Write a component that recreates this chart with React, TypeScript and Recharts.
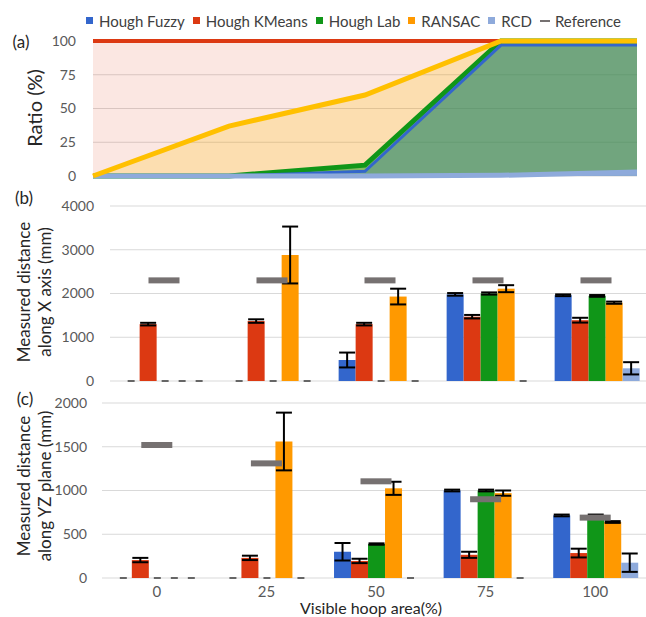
import {
  Area,
  Bar,
  CartesianGrid,
  ComposedChart,
  ErrorBar,
  Line,
  XAxis,
  YAxis,
} from "recharts";

// Visible hoop area (%) categories, shared by the three panels.
const categories = ["0", "25", "50", "75", "100"];

// (a) detection ratio (%)
const ratioFuzzy = [0, 0, 3.5, 97, 97];
const ratioKMeans = [100, 100, 100, 100, 100];
const ratioLab = [0, 0, 8, 100, 100];
const ratioRansac = [0, 37, 60, 100, 100];
const ratioRcd = [0, 0, 0, 0.5, 3];
const ratioTicks = [0, 25, 50, 75, 100];

// (b) measured distance along X axis (mm), mean and error
const xFuzzy = [0, 0, 480, 1980, 1960];
const xFuzzyErr = [0, 0, 170, 30, 20];
const xKMeans = [1300, 1370, 1300, 1470, 1390];
const xKMeansErr = [30, 40, 30, 40, 55];
const xLab = [0, 0, 0, 2000, 1945];
const xLabErr = [0, 0, 0, 25, 20];
const xRansac = [0, 2880, 1930, 2110, 1790];
const xRansacErr = [0, 650, 180, 80, 25];
const xRcd = [0, 0, 0, 0, 290];
const xRcdErr = [0, 0, 0, 0, 140];
const xReference = [2300, 2300, 2300, 2300, 2300];
const xTicks = [0, 1000, 2000, 3000, 4000];

// (c) measured distance along YZ plane (mm), mean and error
const yzFuzzy = [0, 0, 300, 1000, 715];
const yzFuzzyErr = [0, 0, 100, 10, 10];
const yzKMeans = [205, 230, 195, 265, 285];
const yzKMeansErr = [25, 25, 25, 35, 50];
const yzLab = [0, 0, 388, 1000, 715];
const yzLabErr = [0, 0, 8, 10, 10];
const yzRansac = [0, 1560, 1025, 970, 640];
const yzRansacErr = [0, 330, 75, 30, 10];
const yzRcd = [0, 0, 0, 0, 175];
const yzRcdErr = [0, 0, 0, 0, 105];
const yzReference = [1520, 1310, 1105, 900, 690];
const yzTicks = [0, 500, 1000, 1500, 2000];

const C = {
  fuzzy: "#3366cc",
  kmeans: "#dc3912",
  lab: "#109618",
  ransac: "#ff9900",
  ransacLine: "#ffc000",
  rcd: "#8eaadb",
  ref: "#767171",
} as const;

const GRID = "#d9d9d9";
const TICK = "#595959";
const INK = "#262626";
const FONT = "Lato, 'Open Sans', sans-serif";

const SERIES = [
  { key: "fuzzy", name: "Hough Fuzzy", color: C.fuzzy },
  { key: "kmeans", name: "Hough KMeans", color: C.kmeans },
  { key: "lab", name: "Hough Lab", color: C.lab },
  { key: "ransac", name: "RANSAC", color: C.ransac },
  { key: "rcd", name: "RCD", color: C.rcd },
];

const ratioData = categories.map((cat, i) => ({
  cat,
  fuzzy: ratioFuzzy[i],
  kmeans: ratioKMeans[i],
  lab: ratioLab[i],
  ransac: ratioRansac[i],
  rcd: ratioRcd[i],
}));

// note: no "ref" key in rows, Bar spreads the row into its rectangles
const xData = categories.map((cat, i) => ({
  cat,
  fuzzy: xFuzzy[i],
  fuzzyErr: xFuzzyErr[i],
  kmeans: xKMeans[i],
  kmeansErr: xKMeansErr[i],
  lab: xLab[i],
  labErr: xLabErr[i],
  ransac: xRansac[i],
  ransacErr: xRansacErr[i],
  rcd: xRcd[i],
  rcdErr: xRcdErr[i],
  reference: xReference[i],
}));

const yzData = categories.map((cat, i) => ({
  cat,
  fuzzy: yzFuzzy[i],
  fuzzyErr: yzFuzzyErr[i],
  kmeans: yzKMeans[i],
  kmeansErr: yzKMeansErr[i],
  lab: yzLab[i],
  labErr: yzLabErr[i],
  ransac: yzRansac[i],
  ransacErr: yzRansacErr[i],
  rcd: yzRcd[i],
  rcdErr: yzRcdErr[i],
  reference: yzReference[i],
}));

// grey reference dash drawn at each category centre
function RefDash(props: any) {
  const { cx, cy, index } = props;
  if (cx == null || cy == null) return <g key={index} />;
  return <rect key={index} x={cx - 15.5} y={cy - 3} width={31} height={6} fill={C.ref} />;
}

// zero-valued bars still show a short dark tick on the baseline
function BarShape(props: any) {
  const { x, y, width, height, fill } = props;
  if (x == null || y == null) return <g />;
  if (!height || Math.abs(height) < 0.5) {
    const cx = x + width / 2;
    return <line x1={cx - 3.5} x2={cx + 3.5} y1={y} y2={y} stroke="#3a3a3a" strokeWidth={1.5} />;
  }
  return <rect x={x} y={y} width={width} height={height} fill={fill} />;
}

const tickStyle = { fill: TICK, fontSize: 14, fontFamily: FONT };

function Legend() {
  return (
    <div
      style={{
        position: "absolute",
        left: 86,
        top: 10,
        height: 21,
        display: "flex",
        alignItems: "center",
        fontSize: 15,
        color: "#404040",
        whiteSpace: "nowrap",
      }}
    >
      {SERIES.map((s) => (
        <span key={s.key} style={{ display: "flex", alignItems: "center", marginRight: 8 }}>
          <span style={{ width: 7, height: 7, background: s.color, marginRight: 6 }} />
          {s.name}
        </span>
      ))}
      <span style={{ display: "flex", alignItems: "center" }}>
        <span style={{ width: 10, height: 2, background: C.ref, marginRight: 5 }} />
        Reference
      </span>
    </div>
  );
}

function Label({ x, y, size, children, rotate }: { x: number; y: number; size: number; children: any; rotate?: boolean }) {
  return (
    <div
      style={{
        position: "absolute",
        left: x,
        top: y,
        transform: `translate(-50%, -50%)${rotate ? " rotate(-90deg)" : ""}`,
        fontSize: size,
        lineHeight: rotate ? "21px" : 1,
        color: INK,
        whiteSpace: "nowrap",
        textAlign: "center",
      }}
    >
      {children}
    </div>
  );
}

function DistanceChart({ data, ticks, max, axisWidth, tickMargin, showX }: { data: any[]; ticks: number[]; max: number; axisWidth: number; tickMargin: number; showX: boolean }) {
  return (
    <ComposedChart
      width={650}
      height={showX ? 232 : 212}
      data={data}
      margin={showX ? { top: 18, right: 0, bottom: 14, left: 0 } : { top: 20, right: 0, bottom: 17, left: 0 }}
      barCategoryGap="11.7%"
      barGap={0}
    >
      <CartesianGrid stroke={GRID} vertical={false} />
      <XAxis
        dataKey="cat"
        hide={!showX}
        height={25}
        axisLine={false}
        tickLine={false}
        tickMargin={2}
        tick={{ ...tickStyle, fontSize: 15 }}
      />
      <YAxis
        domain={[0, max]}
        ticks={ticks}
        interval={0}
        width={axisWidth}
        axisLine={false}
        tickLine={false}
        tickMargin={tickMargin}
        tick={tickStyle}
      />
      {SERIES.map((s) => (
        <Bar key={s.key} dataKey={s.key} fill={s.color} shape={BarShape} isAnimationActive={false}>
          <ErrorBar dataKey={`${s.key}Err`} width={8} strokeWidth={2} stroke="#000" />
        </Bar>
      ))}
      <Line dataKey="reference" stroke="none" dot={RefDash} activeDot={false} isAnimationActive={false} />
    </ComposedChart>
  );
}

export default function App() {
  return (
    <div
      style={{
        position: "absolute",
        left: 0,
        top: 0,
        width: 646,
        height: 617,
        overflow: "hidden",
        background: "#fff",
        fontFamily: FONT,
      }}
    >
      <Legend />

      <div style={{ position: "absolute", left: 0, top: 0 }}>
        <ComposedChart width={646} height={190} data={ratioData} margin={{ top: 41, right: 9, bottom: 14, left: 0 }}>
          <CartesianGrid stroke={GRID} vertical={false} />
          <XAxis dataKey="cat" hide scale="point" padding={{ left: 0, right: 0 }} />
          <YAxis
            domain={[0, 100]}
            ticks={ratioTicks}
            interval={0}
            width={93}
            axisLine={false}
            tickLine={false}
            tickMargin={11}
            tick={tickStyle}
          />
          {/* translucent fills first, outlines on top */}
          <Area dataKey="kmeans" type="linear" stroke="none" fill={C.kmeans} fillOpacity={0.12} isAnimationActive={false} />
          <Area dataKey="ransac" type="linear" stroke="none" fill={C.ransacLine} fillOpacity={0.22} isAnimationActive={false} />
          <Area dataKey="lab" type="linear" stroke="none" fill={C.lab} fillOpacity={0.5} isAnimationActive={false} />
          <Area dataKey="fuzzy" type="linear" stroke="none" fill={C.fuzzy} fillOpacity={0.25} isAnimationActive={false} />
          <Area dataKey="rcd" type="linear" stroke="none" fill={C.rcd} fillOpacity={0.9} isAnimationActive={false} />
          <Line dataKey="kmeans" type="linear" stroke={C.kmeans} strokeWidth={4} dot={false} activeDot={false} isAnimationActive={false} />
          <Line dataKey="lab" type="linear" stroke={C.lab} strokeWidth={5} dot={false} activeDot={false} isAnimationActive={false} />
          <Line dataKey="fuzzy" type="linear" stroke={C.fuzzy} strokeWidth={3} dot={false} activeDot={false} isAnimationActive={false} />
          <Line dataKey="rcd" type="linear" stroke={C.rcd} strokeWidth={5} dot={false} activeDot={false} isAnimationActive={false} />
          <Line dataKey="ransac" type="linear" stroke={C.ransacLine} strokeWidth={5} dot={false} activeDot={false} isAnimationActive={false} />
        </ComposedChart>
      </div>

      <div style={{ position: "absolute", left: 0, top: 186 }}>
        <DistanceChart data={xData} ticks={xTicks} max={4000} axisWidth={110} tickMargin={10} showX={false} />
      </div>

      <div style={{ position: "absolute", left: 0, top: 385 }}>
        <DistanceChart data={yzData} ticks={yzTicks} max={2000} axisWidth={102} tickMargin={9} showX />
      </div>

      <Label x={21} y={41} size={17}>(a)</Label>
      <Label x={24} y={197} size={17}>(b)</Label>
      <Label x={25} y={398} size={17}>(c)</Label>

      <Label x={34} y={108} size={20} rotate>Ratio (%)</Label>
      <Label x={33.5} y={292} size={17} rotate>
        Measured distance
        <br />
        along X axis (mm)
      </Label>
      <Label x={33.5} y={486} size={17} rotate>
        Measured distance
        <br />
        along YZ plane (mm)
      </Label>
      <Label x={371} y={608} size={16}>Visible hoop area(%)</Label>
    </div>
  );
}
